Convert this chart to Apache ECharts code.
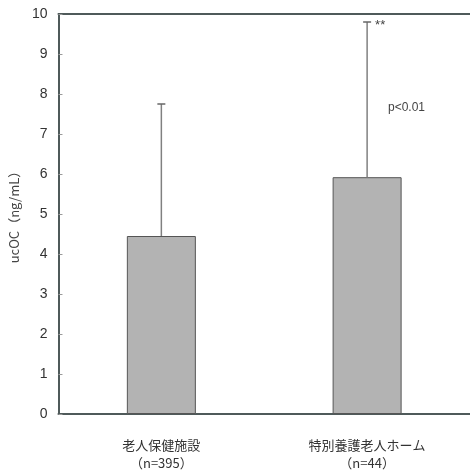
<!DOCTYPE html>
<html>
<head>
<meta charset="utf-8">
<script src="https://cdn.jsdelivr.net/npm/echarts@6/dist/echarts.min.js"></script>
<style>
html, body { margin: 0; padding: 0; background: #fff; }
#chart { width: 470px; height: 472px; }
</style>
</head>
<body>
<div id="chart"></div>
<script>
const categories = ['老人保健施設\n（n=395）', '特別養護老人ホーム\n（n=44）'];
const means = [4.45, 5.92];
const upperErrors = [7.75, 9.8];
const marks = ['', '**'];
const yTicks = [0, 1, 2, 3, 4, 5, 6, 7, 8, 9, 10];

const chart = echarts.init(document.getElementById('chart'));

const option = {
    animation: false,
    grid: {
        left: 58,
        top: 14,
        width: 415,
        height: 404
    },
    xAxis: [
        {
            type: 'category',
            data: categories,
            axisLine: { lineStyle: { color: '#4f5a5a', width: 2 } },
            axisTick: { show: false },
            axisLabel: {
                color: '#333',
                fontSize: 13,
                lineHeight: 18,
                margin: 22,
                fontFamily: 'Noto Sans CJK JP'
            }
        },
        {
            // top frame line
            type: 'category',
            position: 'top',
            data: categories,
            axisLine: { lineStyle: { color: '#4f5a5a', width: 2 } },
            axisTick: { show: false },
            axisLabel: { show: false }
        }
    ],
    yAxis: {
        type: 'value',
        min: yTicks[0],
        max: yTicks[yTicks.length - 1],
        interval: 1,
        name: 'ucOC（ng/mL）',
        nameLocation: 'middle',
        nameGap: 33,
        nameTextStyle: { color: '#444', fontSize: 13, fontFamily: 'Noto Sans CJK JP' },
        axisLine: { show: true, lineStyle: { color: '#4f5a5a', width: 2 } },
        axisTick: { show: true, inside: true, length: 4, lineStyle: { color: '#999' } },
        axisLabel: { color: '#333', fontSize: 14, margin: 11, fontFamily: 'Arial, Liberation Sans' },
        splitLine: { show: false }
    },
    series: [
        {
            type: 'bar',
            data: means,
            barWidth: 69,
            itemStyle: { color: '#b3b3b3', borderColor: '#555', borderWidth: 1 }
        },
        {
            type: 'custom',
            data: upperErrors.map((v, i) => [i, means[i], v]),
            renderItem: function (params, api) {
                const i = api.value(0);
                const base = api.coord([i, api.value(1)]);
                const top = api.coord([i, api.value(2)]);
                const children = [
                    {
                        type: 'line',
                        shape: { x1: top[0], y1: base[1], x2: top[0], y2: top[1] },
                        style: { stroke: '#808080', lineWidth: 1.5 }
                    },
                    {
                        type: 'line',
                        shape: { x1: top[0] - 4, y1: top[1], x2: top[0] + 4, y2: top[1] },
                        style: { stroke: '#666', lineWidth: 1.5 }
                    }
                ];
                if (marks[i]) {
                    children.push({
                        type: 'text',
                        style: {
                            text: marks[i],
                            x: top[0] + 8,
                            y: top[1] + 3,
                            fill: '#444',
                            font: '13px Arial',
                            textVerticalAlign: 'middle'
                        }
                    });
                }
                return { type: 'group', children: children };
            },
            z: 3
        }
    ],
    graphic: [
        {
            type: 'text',
            left: 388,
            top: 102,
            style: { text: 'p<0.01', fill: '#444', font: '12px Arial' }
        }
    ]
};

chart.setOption(option);
</script>
</body>
</html>
